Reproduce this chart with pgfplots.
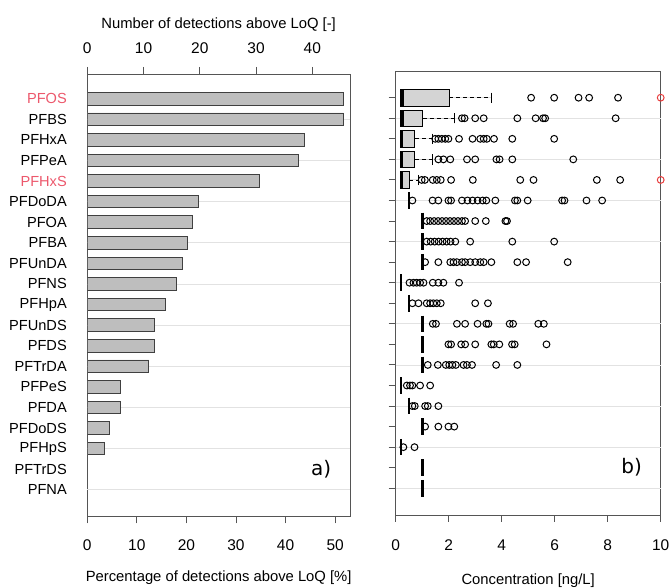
\documentclass[border=0pt]{standalone}
\usepackage{pgfplots}
\pgfplotsset{compat=1.18}
\usepgfplotslibrary{statistics}
\usepackage{fontspec}
\setmainfont{Liberation Sans}
\newfontfamily\dejavu{DejaVu Sans}
\definecolor{labred}{RGB}{236,88,108}
\definecolor{circred}{RGB}{232,60,60}
\definecolor{barfill}{RGB}{190,190,190}
\definecolor{boxfill}{RGB}{212,212,212}
\definecolor{framec}{RGB}{85,85,85}
\definecolor{gridc}{RGB}{226,226,226}
\begin{document}
\begin{tikzpicture}
\useasboundingbox (0,0) rectangle (670pt,588pt);
\pgfplotsset{
  every axis/.append style={
    scale only axis, anchor=south west,
    axis line style={framec, line width=0.9pt},
    tick style={framec, line width=0.9pt},
    major tick length=7pt,
    tick align=outside,
    /pgf/number format/assume math mode=true,
    tick label style={font=\fontsize{15.5}{18}\selectfont},
    label style={font=\fontsize{14.8}{18}\selectfont},
  },
  mybox/.style={
    boxplot prepared={draw direction=x, box extend=0.8, whisker extend=0.5, #1},
    draw=black, fill=boxfill, line width=0.8pt,
    boxplot/every median/.style={line width=3.2pt, black},
    boxplot/draw/lower whisker/.code={},
    boxplot/draw/upper whisker/.code={
      \draw[black, line width=0.8pt, dash pattern=on 4pt off 3pt]
        (boxplot cs:\pgfplotsboxplotvalue{upper quartile}) --
        (boxplot cs:\pgfplotsboxplotvalue{upper whisker});
      \draw[black, line width=0.8pt]
        (boxplot whisker cs:\pgfplotsboxplotvalue{upper whisker},0) --
        (boxplot whisker cs:\pgfplotsboxplotvalue{upper whisker},1);
    },
  },
}
% ---------------- left panel: bars ----------------
\begin{axis}[
  at={(87.3pt,71.5pt)}, width=262.7pt, height=442.5pt,
  xmin=0, xmax=53, ymin=-0.3, ymax=21.2,
  xtick={0,10,...,50}, xtick pos=bottom,
  xticklabel style={anchor=center, yshift=-21.5pt},
  ytick={1,...,20},
  yticklabels={PFNA,PFTrDS,PFHpS,PFDoDS,PFDA,PFPeS,PFTrDA,PFDS,PFUnDS,PFHpA,PFNS,PFUnDA,PFBA,PFOA,PFDoDA,\textcolor{labred}{PFHxS},PFPeA,PFHxA,PFBS,\textcolor{labred}{PFOS}},
  ytick style={draw=none},
  yticklabel style={font=\fontsize{14.6}{17}\selectfont, anchor=east, xshift=-10pt},
  extra y ticks={1,3,...,19}, extra y tick labels={},
  extra y tick style={grid=major, major grid style={gridc, line width=0.8pt}, tick style={draw=none}},
  xlabel={Percentage of detections above LoQ [\%]},
  xlabel style={at={(axis description cs:0.5,0)}, anchor=center, yshift=-61pt},
]
\addplot[xbar, bar width=12.6pt, fill=barfill, draw=black!75, line width=0.9pt] coordinates {
  (51.7,20) (51.7,19) (43.8,18) (42.7,17) (34.8,16) (22.5,15) (21.3,14)
  (20.2,13) (19.1,12) (18.0,11) (15.7,10) (13.5,9) (13.5,8) (12.4,7)
  (6.7,6) (6.7,5) (4.5,4) (3.4,3)
};
\node[font=\dejavu\fontsize{20}{24}\selectfont] at (axis cs:47.2,2) {a)};
\end{axis}
% ---------------- left panel: top axis ----------------
\begin{axis}[
  at={(87.3pt,71.5pt)}, width=262.7pt, height=442.5pt,
  xmin=0, xmax=46.7, ymin=0, ymax=1,
  axis x line*=top, axis y line=none,
  xtick={0,10,...,40},
  xticklabel style={anchor=center, yshift=19pt},
  xlabel={Number of detections above LoQ [-]},
  xlabel style={at={(axis description cs:0.5,1)}, anchor=center, yshift=49pt},
]
\end{axis}
% ---------------- right panel: boxplots ----------------
\begin{axis}[
  at={(395.7pt,73pt)}, width=265pt, height=444pt,
  xmin=0, xmax=10, ymin=-0.3, ymax=21.3,
  clip=false,
  xtick={0,2,...,10}, xtick pos=bottom,
  xticklabel style={anchor=center, yshift=-23pt},
  ytick={1,...,20}, yticklabels={}, ytick pos=left,
  extra y ticks={1,3,...,19}, extra y tick labels={},
  extra y tick style={grid=major, major grid style={gridc, line width=0.8pt}, tick style={draw=none}},
  xlabel={Concentration [ng/L]},
  xlabel style={at={(axis description cs:0.5,0)}, anchor=center, yshift=-66pt},
]
\addplot[mybox={draw position=20, lower whisker=0.19, lower quartile=0.19, median=0.26, upper quartile=2.02, upper whisker=3.6}] coordinates {};
\addplot[mybox={draw position=19, lower whisker=0.19, lower quartile=0.19, median=0.26, upper quartile=1.02, upper whisker=2.2}] coordinates {};
\addplot[mybox={draw position=18, lower whisker=0.16, lower quartile=0.16, median=0.21, upper quartile=0.72, upper whisker=1.39}] coordinates {};
\addplot[mybox={draw position=17, lower whisker=0.16, lower quartile=0.16, median=0.21, upper quartile=0.72, upper whisker=1.39}] coordinates {};
\addplot[mybox={draw position=16, lower whisker=0.16, lower quartile=0.16, median=0.21, upper quartile=0.52, upper whisker=0.86}] coordinates {};
% collapsed medians
\addplot[only marks, mark=|, mark size=8.3pt, mark options={line width=2.6pt, black}] coordinates {
  (0.5,15) (1,14) (1,13) (1,12) (0.2,11) (0.5,10) (1,9) (1,8) (1,7)
  (0.2,6) (0.5,5) (1,4) (0.2,3) (1,2) (1,1)
};
% outliers
\addplot[only marks, mark=o, mark size=3.4pt, mark options={line width=1pt, black}] coordinates {
  (5.11,20) (5.98,20) (6.90,20) (7.30,20) (8.39,20)
  (2.50,19) (2.60,19) (3.00,19) (3.32,19) (4.59,19) (5.28,19) (5.56,19) (5.64,19) (8.30,19)
  (1.49,18) (1.61,18) (1.74,18) (1.87,18) (1.99,18) (2.39,18) (2.90,18) (3.19,18) (3.32,18) (3.44,18) (3.71,18) (4.40,18) (5.98,18)
  (1.61,17) (1.80,17) (2.06,17) (2.69,17) (3.00,17) (3.80,17) (3.92,17) (4.40,17) (6.70,17)
  (0.98,16) (1.10,16) (1.40,16) (1.55,16) (1.70,16) (2.09,16) (2.91,16) (4.70,16) (5.20,16) (7.59,16) (8.47,16)
  (0.63,15) (1.39,15) (1.61,15) (1.99,15) (2.09,15) (2.50,15) (2.71,15) (2.90,15) (3.09,15) (3.28,15) (3.42,15) (3.76,15) (4.50,15) (4.59,15) (4.98,15) (6.28,15) (6.37,15) (7.20,15) (7.79,15)
  (1.17,14) (1.30,14) (1.45,14) (1.60,14) (1.75,14) (1.90,14) (2.05,14) (2.20,14) (2.35,14) (2.50,14) (2.62,14) (3.00,14) (3.40,14) (4.14,14) (4.20,14)
  (1.17,13) (1.32,13) (1.47,13) (1.62,13) (1.77,13) (1.92,13) (2.07,13) (2.25,13) (2.81,13) (4.40,13) (5.98,13)
  (1.11,12) (1.61,12) (2.06,12) (2.18,12) (2.31,12) (2.50,12) (2.62,12) (2.81,12) (3.00,12) (3.19,12) (3.32,12) (3.61,12) (4.59,12) (4.92,12) (6.49,12)
  (0.52,11) (0.67,11) (0.79,11) (0.92,11) (1.05,11) (1.40,11) (1.61,11) (1.80,11) (2.39,11)
  (0.63,10) (0.86,10) (1.17,10) (1.30,10) (1.42,10) (1.55,10) (1.70,10) (3.00,10) (3.48,10)
  (1.40,9) (1.52,9) (2.31,9) (2.62,9) (3.09,9) (3.42,9) (3.50,9) (4.30,9) (4.43,9) (5.38,9) (5.59,9)
  (1.99,8) (2.09,8) (2.47,8) (2.62,8) (3.00,8) (3.61,8) (3.70,8) (3.91,8) (4.39,8) (4.49,8) (5.69,8)
  (1.21,7) (1.59,7) (1.89,7) (2.02,7) (2.14,7) (2.27,7) (2.56,7) (2.69,7) (2.88,7) (3.79,7) (4.59,7)
  (0.42,6) (0.54,6) (0.63,6) (0.92,6) (1.30,6)
  (0.63,5) (0.72,5) (1.11,5) (1.21,5) (1.61,5)
  (1.11,4) (1.61,4) (1.99,4) (2.21,4)
  (0.29,3) (0.71,3)
};
\addplot[only marks, mark=o, mark size=3.4pt, mark options={line width=1pt, circred}] coordinates {
  (10,20) (10,16)
};
\node[font=\dejavu\fontsize{20}{24}\selectfont] at (axis cs:8.9,2) {b)};
\end{axis}
\end{tikzpicture}
\end{document}
